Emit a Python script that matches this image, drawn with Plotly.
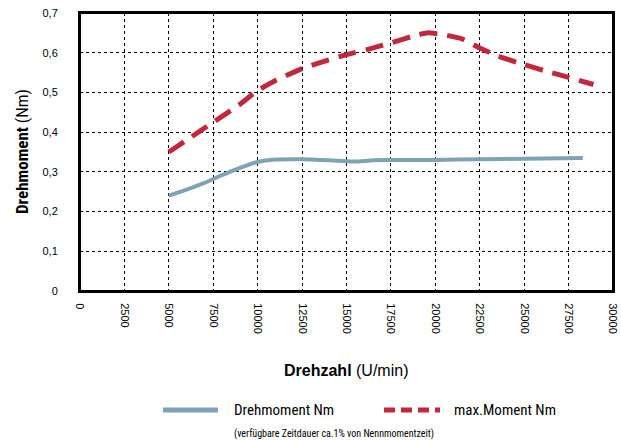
import plotly.graph_objects as go

drehmoment_x = [5000, 6000, 7000, 8000, 9000, 10000, 11000, 12000, 13000, 14000, 15000, 15500, 16500, 18000, 20000, 22500, 25000, 28300]
drehmoment_y = [0.240, 0.255, 0.272, 0.292, 0.310, 0.325, 0.331, 0.332, 0.331, 0.329, 0.327, 0.326, 0.329, 0.330, 0.330, 0.332, 0.333, 0.335]

maxmoment_x = [5000, 6000, 7500, 9000, 10000, 11000, 12500, 14000, 15000, 16500, 17500, 19000, 19600, 20500, 21500, 22500, 23500, 25000, 26500, 27500, 28900]
maxmoment_y = [0.350, 0.380, 0.425, 0.470, 0.505, 0.530, 0.560, 0.582, 0.595, 0.612, 0.625, 0.645, 0.650, 0.645, 0.635, 0.612, 0.592, 0.570, 0.550, 0.538, 0.520]

x_ticks = [0, 2500, 5000, 7500, 10000, 12500, 15000, 17500, 20000, 22500, 25000, 27500, 30000]
y_ticks = [0, 0.1, 0.2, 0.3, 0.4, 0.5, 0.6, 0.7]
y_ticklabels = ["0", "0,1", "0,2", "0,3", "0,4", "0,5", "0,6", "0,7"]

blue = "#7fa3b5"
red = "#c0283c"
cond = "Liberation Sans Narrow, Roboto Condensed, Arial Narrow, sans-serif"
sans = "Liberation Sans, Arial, sans-serif"

fig = go.Figure()
fig.add_trace(go.Scatter(x=drehmoment_x, y=drehmoment_y, mode="lines",
                         line=dict(color=blue, width=4, shape="spline", smoothing=0.3),
                         name="Drehmoment Nm", showlegend=False))
fig.add_trace(go.Scatter(x=maxmoment_x, y=maxmoment_y, mode="lines",
                         line=dict(color=red, width=5, dash="18px,10px", shape="spline", smoothing=0.3),
                         name="max.Moment Nm", showlegend=False))

W, H = 621, 443
L, R, T, B = 80, 8, 13, 152
pw = W - L - R
ph = H - T - B

def py(wy):
    return (H - B - wy) / ph

def pxx(wx):
    return (wx - L) / pw

fig.update_layout(
    width=W, height=H,
    margin=dict(l=L, r=R, t=T, b=B, autoexpand=False),
    paper_bgcolor="white", plot_bgcolor="white",
    font=dict(family=sans, size=11, color="black"),
    xaxis=dict(range=[0, 30000], tickvals=x_ticks, ticktext=[str(v) for v in x_ticks],
               tickangle=90, showgrid=True, gridcolor="black", griddash="dot", gridwidth=1,
               showline=True, linecolor="black", linewidth=2, mirror="all", automargin=False,
               tickfont=dict(family=sans, size=11),
               ticks="", ticklabelstandoff=8, zeroline=False, fixedrange=True),
    yaxis=dict(range=[0, 0.7], tickvals=y_ticks, ticktext=y_ticklabels,
               showgrid=True, gridcolor="black", griddash="dot", gridwidth=1,
               showline=True, linecolor="black", linewidth=2, mirror="all", automargin=False,
               tickfont=dict(family=sans, size=11),
               ticks="", ticklabelstandoff=18, zeroline=False, fixedrange=True),
)

annotations = [
    dict(x=pxx(22), y=py(152), xref="paper", yref="paper", showarrow=False, textangle=-90,
         text="<b>Drehmoment</b> (Nm)", font=dict(family=cond, size=17),
         xanchor="center", yanchor="middle"),
    dict(x=pxx(346), y=py(370), xref="paper", yref="paper", showarrow=False,
         text="<b>Drehzahl</b> (U/min)", font=dict(family=sans, size=16),
         xanchor="center", yanchor="middle"),
    dict(x=pxx(232), y=py(410), xref="paper", yref="paper", showarrow=False,
         text="Drehmoment Nm", font=dict(family=cond, size=15), xanchor="left", yanchor="middle"),
    dict(x=pxx(452), y=py(410), xref="paper", yref="paper", showarrow=False,
         text="max.Moment Nm", font=dict(family=cond, size=15), xanchor="left", yanchor="middle"),
    dict(x=pxx(232), y=py(434), xref="paper", yref="paper", showarrow=False,
         text="(verfügbare Zeitdauer ca.1% von Nennmomentzeit)", font=dict(family=cond, size=10),
         xanchor="left", yanchor="middle"),
]
fig.update_layout(annotations=annotations)

shapes = [
    # plot frame
    dict(type="rect", xref="paper", yref="paper", x0=0, x1=1, y0=0, y1=1,
         line=dict(color="black", width=2), fillcolor="rgba(0,0,0,0)", layer="above"),
    # legend samples
    dict(type="line", xref="paper", yref="paper", x0=pxx(163), x1=pxx(218), y0=py(410), y1=py(410),
         line=dict(color=blue, width=5)),
    dict(type="line", xref="paper", yref="paper", x0=pxx(384), x1=pxx(440), y0=py(410), y1=py(410),
         line=dict(color=red, width=5, dash="11px,6px")),
]
fig.update_layout(shapes=shapes)

fig.write_html("out.html", config={"displayModeBar": False, "staticPlot": True},
               post_script="document.body.style.margin='0';document.body.style.overflow='hidden';")
